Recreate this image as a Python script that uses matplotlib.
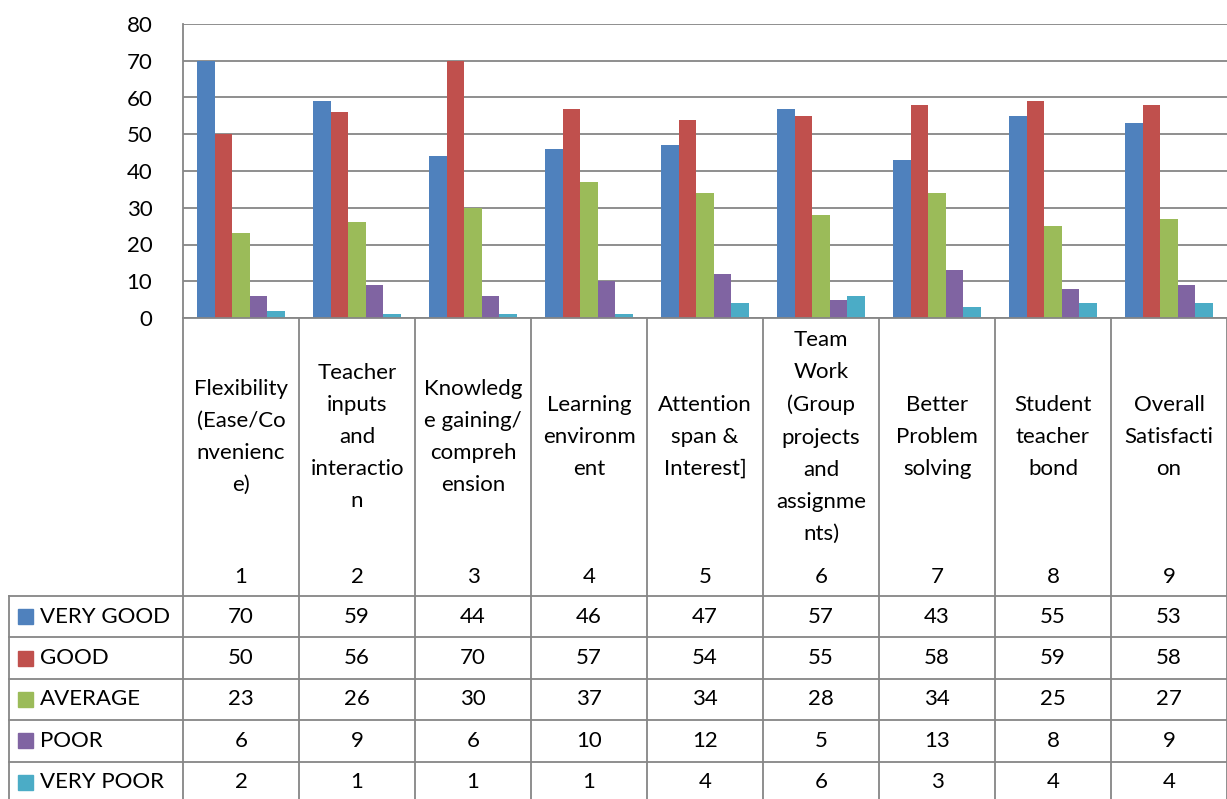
import numpy as np
import matplotlib.pyplot as plt
from matplotlib.patches import Rectangle

plt.rcParams['font.family'] = ['Lato', 'DejaVu Sans']

# data
categories = ['Flexibility\n(Ease/Co\nnvenienc\ne)',
              'Teacher\ninputs\nand\ninteractio\nn',
              'Knowledg\ne gaining/\ncompreh\nension',
              'Learning\nenvironm\nent',
              'Attention\nspan &\nInterest]',
              'Team\nWork\n(Group\nprojects\nand\nassignme\nnts)',
              'Better\nProblem\nsolving',
              'Student\nteacher\nbond',
              'Overall\nSatisfacti\non']
numbers = ['1', '2', '3', '4', '5', '6', '7', '8', '9']
series_names = ['VERY GOOD', 'GOOD', 'AVERAGE', 'POOR', 'VERY POOR']
very_good = [70, 59, 44, 46, 47, 57, 43, 55, 53]
good = [50, 56, 70, 57, 54, 55, 58, 59, 58]
average = [23, 26, 30, 37, 34, 28, 34, 25, 27]
poor = [6, 9, 6, 10, 12, 5, 13, 8, 9]
very_poor = [2, 1, 1, 1, 4, 6, 3, 4, 4]
colors = ['#4F81BD', '#C0504D', '#9BBB59', '#8064A2', '#4BACC6']

series = [very_good, good, average, poor, very_poor]
grid_c = '#868686'
W, H = 1227, 799
fs = 16

fig = plt.figure(figsize=(W / 100, H / 100), dpi=100)

# chart area
ax = fig.add_axes([183 / W, 1 - 318 / H, (W - 183) / W, (318 - 24) / H])
x = np.arange(len(categories))
bw = 0.152
for j, vals in enumerate(series):
    ax.bar(x + (j - 2) * bw, vals, width=bw, color=colors[j], zorder=3)

ax.set_xlim(-0.5, 8.5)
ax.set_ylim(0, 80)
ax.set_yticks(np.arange(0, 81, 10))
ax.yaxis.grid(True, color=grid_c, lw=1.3, zorder=0)
ax.tick_params(axis='y', length=0, labelsize=fs, pad=22)
ax.set_xticks([])
for s in ['right', 'top', 'bottom']:
    ax.spines[s].set_visible(False)
ax.spines['left'].set_color(grid_c)
ax.spines['left'].set_linewidth(1.3)

# data table below (y in pixels from the top)
tb = fig.add_axes([0, 0, 1, (H - 318) / H])
tb.set_xlim(-0.5 - 183 / 116, 8.5)
tb.set_ylim(H, 318)
tb.axis('off')

x_left = -0.5 - 174 / 116
row_top = 596
row_h = 41.4
lc = dict(color=grid_c, lw=1.3, clip_on=False)

tb.plot([-0.5, 8.5], [318, 318], **lc)
for k in range(10):
    tb.plot([-0.5 + k, -0.5 + k], [318, H], **lc)
tb.plot([x_left, x_left], [row_top, H], **lc)
for r in range(5):
    yy = row_top + r * row_h
    tb.plot([x_left, 8.5], [yy, yy], **lc)

for i in range(len(categories)):
    tb.text(i, 437, categories[i], ha='center', va='center', fontsize=fs,
            linespacing=1.76, multialignment='center')
    tb.text(i, 577, numbers[i], ha='center', va='center', fontsize=fs)

for r, name in enumerate(series_names):
    yc = row_top + (r + 0.5) * row_h
    tb.add_patch(Rectangle((x_left + 9 / 116, yc - 7.5), 15 / 116, 15,
                           color=colors[r], clip_on=False))
    tb.text(x_left + 31 / 116, yc, name, ha='left', va='center', fontsize=fs)
    for i, v in enumerate(series[r]):
        tb.text(i, yc, str(v), ha='center', va='center', fontsize=fs)

fig.savefig('out.png', dpi=100)
